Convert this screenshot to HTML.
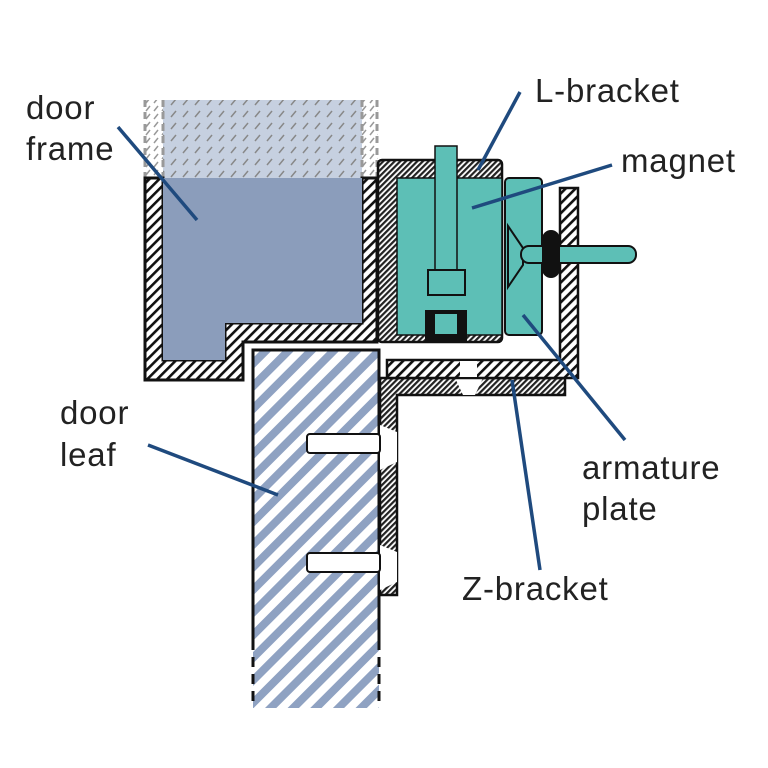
<!DOCTYPE html>
<html><head><style>body{margin:0;background:#fff}svg{display:block}text{font-family:"Liberation Sans",sans-serif;font-size:33px;letter-spacing:0.8px;fill:#222}</style></head><body>
<svg width="768" height="768" viewBox="0 0 768 768" xmlns="http://www.w3.org/2000/svg">
<defs>
<pattern id="h" patternUnits="userSpaceOnUse" width="7" height="7" patternTransform="rotate(45)"><rect width="7" height="7" fill="#fff"/><rect width="2.6" height="7" fill="#111"/></pattern>
<pattern id="hd" patternUnits="userSpaceOnUse" width="4" height="4" patternTransform="rotate(45)"><rect width="4" height="4" fill="#fff"/><rect width="2.2" height="4" fill="#222"/></pattern>
<pattern id="lh" patternUnits="userSpaceOnUse" width="16" height="16" patternTransform="rotate(45)"><rect width="16" height="16" fill="#fff"/><rect width="8" height="16" fill="#8fa2c2"/></pattern>
<pattern id="gh" patternUnits="userSpaceOnUse" width="12" height="12"><rect width="12" height="12" fill="#c6d0e0"/><line x1="3" y1="9" x2="8" y2="3" stroke="#888" stroke-width="1.5"/></pattern>
<pattern id="gw" patternUnits="userSpaceOnUse" width="8" height="8"><rect width="8" height="8" fill="#fff"/><line x1="2" y1="7" x2="6" y2="2" stroke="#999" stroke-width="1.5"/></pattern>
</defs>
<rect x="145" y="100" width="232" height="78" fill="url(#gh)"/>
<rect x="145" y="100" width="18" height="78" fill="url(#gw)"/>
<rect x="362" y="100" width="16" height="78" fill="url(#gw)"/>
<line x1="145" y1="100" x2="145" y2="178" stroke="#999" stroke-width="3" stroke-dasharray="7 5"/>
<line x1="163" y1="100" x2="163" y2="178" stroke="#999" stroke-width="3" stroke-dasharray="7 5"/>
<line x1="362" y1="100" x2="362" y2="178" stroke="#999" stroke-width="3" stroke-dasharray="7 5"/>
<line x1="377" y1="100" x2="377" y2="178" stroke="#999" stroke-width="3" stroke-dasharray="7 5"/>
<path d="M145 178 L145 380 L243 380 L243 342 L377 342 L377 178 L362 178 L362 323 L225 323 L225 360 L163 360 L163 178 Z" fill="url(#h)" stroke="#111" stroke-width="3"/>
<path d="M163 178 L362 178 L362 323 L225 323 L225 360 L163 360 Z" fill="#8b9dbb"/>
<rect x="253" y="350" width="126" height="358" fill="url(#lh)"/>
<path d="M253 640 L253 350 L379 350 L379 640" fill="none" stroke="#111" stroke-width="3"/>
<line x1="253" y1="640" x2="253" y2="708" stroke="#111" stroke-width="3" stroke-dasharray="10 7"/>
<line x1="379" y1="640" x2="379" y2="708" stroke="#111" stroke-width="3" stroke-dasharray="10 7"/>
<path d="M380 378 L565 378 L565 395 L397 395 L397 595 L380 595 Z" fill="url(#hd)" stroke="#111" stroke-width="2.5"/>
<polygon points="455,378 483,378 475,395 463,395" fill="#fff"/>
<polygon points="380,425 397,432 397,462 380,470" fill="#fff"/>
<polygon points="380,545 397,552 397,582 380,590" fill="#fff"/>
<rect x="307" y="434" width="73" height="19" rx="3" fill="#fff" stroke="#111" stroke-width="2"/>
<rect x="307" y="553" width="73" height="19" rx="3" fill="#fff" stroke="#111" stroke-width="2"/>
<path d="M387 360 L560 360 L560 188 L578 188 L578 378 L387 378 Z" fill="url(#h)" stroke="#111" stroke-width="2.5"/>
<rect x="460" y="361" width="17" height="16" fill="#fff"/>
<rect x="378" y="160" width="124" height="182" rx="4" fill="url(#hd)" stroke="#111" stroke-width="2.5"/>
<rect x="397" y="178" width="105" height="157" fill="#5dbfb6" stroke="#111" stroke-width="1.5"/>
<rect x="435" y="146" width="22" height="126" fill="#5dbfb6" stroke="#111" stroke-width="1.5"/>
<rect x="428" y="270" width="37" height="25" fill="#5dbfb6" stroke="#111" stroke-width="2"/>
<rect x="425" y="310" width="42" height="32" fill="#111"/>
<rect x="435" y="314" width="22" height="20" fill="#5dbfb6"/>
<rect x="505" y="178" width="37" height="157" rx="4" fill="#5dbfb6" stroke="#111" stroke-width="2"/>
<polygon points="508,226 523,248 523,265 508,287" fill="#5dbfb6" stroke="#111" stroke-width="2"/>
<rect x="521" y="246" width="115" height="17" rx="8" fill="#5dbfb6" stroke="#111" stroke-width="2"/>
<rect x="542" y="230" width="18" height="48" rx="9" fill="#111"/>
<g stroke="#1f4a7e" stroke-width="3.5" fill="none">
<line x1="118" y1="127" x2="197" y2="220"/>
<line x1="148" y1="445" x2="278" y2="495"/>
<line x1="520" y1="92" x2="478" y2="170"/>
<line x1="612" y1="165" x2="472" y2="208"/>
<line x1="523" y1="315" x2="625" y2="440"/>
<line x1="512" y1="380" x2="540" y2="570"/>
</g>
<text x="26" y="119">door</text>
<text x="26" y="160">frame</text>
<text x="60" y="424">door</text>
<text x="60" y="466">leaf</text>
<text x="535" y="102">L-bracket</text>
<text x="621" y="172">magnet</text>
<text x="582" y="479">armature</text>
<text x="582" y="520">plate</text>
<text x="462" y="600">Z-bracket</text>
</svg>
</body></html>
